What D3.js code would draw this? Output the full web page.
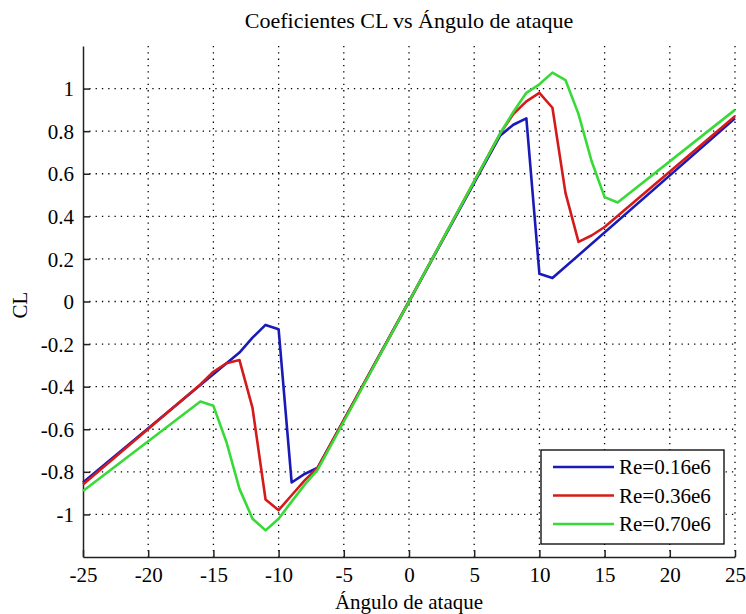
<!DOCTYPE html>
<html>
<head>
<meta charset="utf-8">
<script src="https://cdn.jsdelivr.net/npm/d3@7"></script>
<style>
  body { margin: 0; background: #fff; }
  text { font-family: "Liberation Serif", "DejaVu Serif", serif; fill: #000; }
</style>
</head>
<body>
<script>
// Data (angle of attack in degrees, CL)
var alpha016 = [-25, -13, -12, -11, -10, -9, -8, -7, 0, 7, 8, 9, 10, 11, 25];
var cl016    = [-0.85, -0.24, -0.17, -0.11, -0.13, -0.85, -0.81, -0.78, 0, 0.78, 0.83, 0.86, 0.13, 0.11, 0.86];

var alpha036 = [-25, -16, -15, -14, -13, -12, -11, -10, -9, -8, -7, 0, 7, 8, 9, 10, 11, 12, 13, 14, 15, 25];
var cl036    = [-0.86, -0.39, -0.33, -0.29, -0.275, -0.5, -0.93, -0.98, -0.91, -0.84, -0.78, 0, 0.79, 0.88, 0.94, 0.98, 0.91, 0.51, 0.28, 0.31, 0.35, 0.87];

var alpha070 = [-25, -16, -15, -14, -13, -12, -11, -10, -9, -8, -7, 0, 7, 8, 9, 10, 11, 12, 13, 14, 15, 16, 25];
var cl070    = [-0.89, -0.47, -0.49, -0.66, -0.88, -1.02, -1.075, -1.02, -0.94, -0.86, -0.79, 0, 0.79, 0.89, 0.98, 1.02, 1.075, 1.04, 0.88, 0.66, 0.49, 0.465, 0.90];

var seriesNames = ["Re=0.16e6", "Re=0.36e6", "Re=0.70e6"];
var seriesColors = ["#1a1ab8", "#d41a1a", "#38da38"];
var xTicks = [-25, -20, -15, -10, -5, 0, 5, 10, 15, 20, 25];
var yTicks = [-1, -0.8, -0.6, -0.4, -0.2, 0, 0.2, 0.4, 0.6, 0.8, 1];

var series = [
  { name: seriesNames[0], color: seriesColors[0], pts: d3.zip(alpha016, cl016) },
  { name: seriesNames[1], color: seriesColors[1], pts: d3.zip(alpha036, cl036) },
  { name: seriesNames[2], color: seriesColors[2], pts: d3.zip(alpha070, cl070) }
];

var svgWidth = 746, svgHeight = 614;
var margin = { top: 46, right: 11, bottom: 57, left: 83 };
var width = svgWidth - margin.left - margin.right;
var height = svgHeight - margin.top - margin.bottom;
var fontSize = 21;

var svg = d3.select("body").append("svg")
  .attr("width", svgWidth)
  .attr("height", svgHeight);

var chart = svg.append("g")
  .attr("transform", `translate(${margin.left}, ${margin.top})`);

var x = d3.scaleLinear().domain([-25, 25]).range([0, width]);
var y = d3.scaleLinear().domain([-1.2, 1.2]).range([height, 0]);

// plain hyphen for negatives, like the original
var fmt = d => String(+(+d).toFixed(1));

// dotted grid
chart.append("g")
  .selectAll("line")
  .data(xTicks.slice(1))
  .enter().append("line")
  .attr("x1", d => x(d)).attr("x2", d => x(d))
  .attr("y1", 0).attr("y2", height)
  .attr("stroke", "#000").attr("stroke-width", 1.3)
  .attr("stroke-dasharray", "1.3,5");

chart.append("g")
  .selectAll("line")
  .data(yTicks)
  .enter().append("line")
  .attr("x1", 0).attr("x2", width)
  .attr("y1", d => y(d)).attr("y2", d => y(d))
  .attr("stroke", "#000").attr("stroke-width", 1.3)
  .attr("stroke-dasharray", "1.3,5");

// axes (ticks point inward)
var bottomAxis = d3.axisBottom(x).tickValues(xTicks).tickSizeInner(-7).tickSizeOuter(0).tickPadding(10).tickFormat(fmt);
var leftAxis = d3.axisLeft(y).tickValues(yTicks).tickSizeInner(-7).tickSizeOuter(0).tickPadding(9).tickFormat(fmt);

var xg = chart.append("g")
  .attr("transform", `translate(0, ${height})`)
  .call(bottomAxis);
var yg = chart.append("g").call(leftAxis);

[xg, yg].forEach(function(g) {
  g.select(".domain").attr("stroke", "#222").attr("stroke-width", 1.5);
  g.selectAll(".tick line").attr("stroke", "#222").attr("stroke-width", 1.5);
  g.selectAll(".tick text")
    .style("font-family", "Liberation Serif, serif")
    .style("font-size", fontSize + "px")
    .attr("fill", "#000");
});
yg.selectAll(".tick text").attr("dy", "0.34em");

// lines
var line = d3.line().x(d => x(d[0])).y(d => y(d[1]));
chart.selectAll("path.series")
  .data(series)
  .enter().append("path")
  .attr("class", "series")
  .attr("d", d => line(d.pts))
  .attr("fill", "none")
  .attr("stroke", d => d.color)
  .attr("stroke-width", 2.6)
  .attr("stroke-linejoin", "round");

// legend
var legend = svg.append("g").attr("transform", "translate(541, 450)");
legend.append("rect")
  .attr("width", 183).attr("height", 94)
  .attr("fill", "#fff").attr("stroke", "#000").attr("stroke-width", 1.3);
var items = legend.selectAll("g.item")
  .data(series)
  .enter().append("g")
  .attr("transform", (d, i) => `translate(0, ${17 + i * 28.5})`);
items.append("line")
  .attr("x1", 12).attr("x2", 73)
  .attr("stroke", d => d.color).attr("stroke-width", 2.6);
items.append("text")
  .attr("x", 78).attr("y", 7)
  .style("font-size", fontSize + "px")
  .text(d => d.name);

// titles
svg.append("text")
  .attr("x", margin.left + width / 2).attr("y", 28)
  .attr("text-anchor", "middle")
  .style("font-size", "22px")
  .text("Coeficientes CL vs Ángulo de ataque");

svg.append("text")
  .attr("x", margin.left + width / 2).attr("y", 609)
  .attr("text-anchor", "middle")
  .style("font-size", fontSize + "px")
  .text("Ángulo de ataque");

svg.append("text")
  .attr("transform", "translate(27, 305) rotate(-90)")
  .attr("text-anchor", "middle")
  .style("font-size", fontSize + "px")
  .text("CL");
</script>
</body>
</html>
